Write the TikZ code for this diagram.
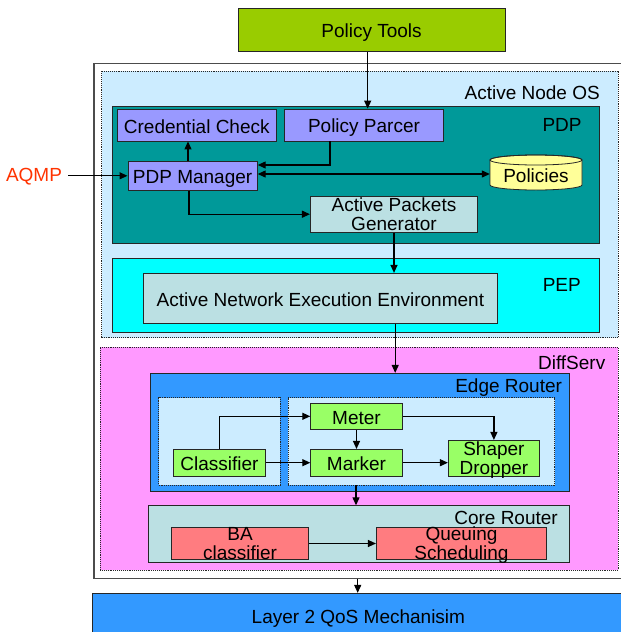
\documentclass[tikz,border=0pt]{standalone}
\usepackage{fontspec}
\setmainfont{Liberation Sans}
\usetikzlibrary{arrows.meta}
\definecolor{ptc}{HTML}{99CC00}
\definecolor{anosc}{HTML}{CCECFF}
\definecolor{pdpc}{HTML}{009999}
\definecolor{purp}{HTML}{9999FF}
\definecolor{polc}{HTML}{FFFF99}
\definecolor{grayb}{HTML}{BBE0E3}
\definecolor{pepc}{HTML}{00FFFF}
\definecolor{dsc}{HTML}{FF99FF}
\definecolor{blu}{HTML}{3399FF}
\definecolor{grn}{HTML}{99FF66}
\definecolor{redb}{HTML}{FF7C80}
\definecolor{aqc}{HTML}{FF3300}
\begin{document}
\begin{tikzpicture}[x=1pt,y=-1pt,
  every node/.style={font=\fontsize{19}{19}\selectfont},
  box/.style={draw=black!85, line width=0.8pt, inner sep=0pt, align=center},
  one/.style={text height=15.6pt, text depth=0pt},
  two/.style={text depth=0pt},
  cont/.style={draw=black!85, line width=0.8pt, inner sep=0pt},
  dcont/.style={draw=black!85, densely dotted, line width=0.9pt, inner sep=0pt},
  lbl/.style={anchor=base east, inner sep=0pt},
  arr/.style={-{Triangle[length=8pt,width=7pt]}, line width=1.2pt},
  arrb/.style={{Triangle[length=8pt,width=7pt]}-{Triangle[length=8pt,width=7pt]}, line width=1.2pt}]
\useasboundingbox (0,0) rectangle (621,632);
\clip (0,0) rectangle (621,632);
\fill[white] (0,0) rectangle (621,632);

% containers
\node[cont, draw=black!70, line width=1.2pt, minimum width=546, minimum height=514.8] (outer) at (367,320.9) {};
\node[dcont, fill=anosc, minimum width=516.2, minimum height=266.7] (anos) at (359.9,204.35) {};
\node[cont, fill=pdpc, minimum width=486.4, minimum height=136.6] (pdp) at (355.8,175) {};
\node[cont, fill=pepc, minimum width=486.4, minimum height=73.6] (pep) at (355.8,295.5) {};
\node[dcont, fill=dsc, minimum width=518, minimum height=222.7] (ds) at (359,458.65) {};
\node[cont, fill=blu, minimum width=418.5, minimum height=118.4] (er) at (360.05,432.5) {};
\node[dcont, fill=anosc, minimum width=121.7, minimum height=87.3] (inl) at (219.45,441.35) {};
\node[dcont, fill=anosc, minimum width=266.4, minimum height=87.3] (inr) at (421.6,441.35) {};
\node[cont, fill=grayb, minimum width=420.5, minimum height=57] (cr) at (359.05,534.2) {};

% container labels
\node[lbl] (lanos) at (600,99) {Active Node OS};
\node[lbl] (lpdp) at (581.8,131.7) {PDP};
\node[lbl] (lpep) at (581,291) {PEP};
\node[lbl] (lds) at (605.5,369.3) {DiffServ};
\node[lbl] (ler) at (562.2,392.3) {Edge Router};
\node[lbl] (lcr) at (558,524) {Core Router};

% boxes
\node[box, one, fill=ptc, minimum width=267, minimum height=43.4] (pt) at (371.5,30) {Policy Tools};
\node[box, one, fill=purp, minimum width=159.6, minimum height=31.7] (cc) at (196.8,125.2) {Credential Check};
\node[box, one, fill=purp, minimum width=159.2, minimum height=32] (pp) at (364,125) {Policy Parcer};
\node[box, one, fill=purp, minimum width=129.4, minimum height=29] (pm) at (192.6,175.8) {PDP Manager};
\node[box, two, fill=grayb, minimum width=167.3, minimum height=36.3] (apg) at (394,214.2) {Active Packets\\Generator};
\node[box, one, fill=grayb, minimum width=353.9, minimum height=50] (anee) at (320.4,298.3) {Active Network Execution Environment};

% Policies cylinder
\draw[fill=polc, draw=black!85, line width=0.8pt] (490,160) -- (490,185)
  arc[start angle=180, end angle=360, x radius=46pt, y radius=5pt] -- (582,160)
  arc[start angle=0, end angle=180, x radius=46pt, y radius=5pt] -- cycle;
\draw[draw=black!85, line width=0.8pt] (536,160) ellipse [x radius=46pt, y radius=5pt];
\node[one, inner sep=0pt, minimum width=92, minimum height=30] (pol) at (536,175) {Policies};

\node[box, one, fill=grn, minimum width=91.6, minimum height=26] (meter) at (356.5,416.3) {Meter};
\node[box, one, fill=grn, minimum width=91.6, minimum height=26.7] (marker) at (356.5,462.7) {Marker};
\node[box, one, fill=grn, minimum width=91.9, minimum height=26.7] (cls) at (219.5,462.7) {Classifier};
\node[box, two, fill=grn, minimum width=91.2, minimum height=35.7] (sd) at (493.9,458.2) {Shaper\\Dropper};
\node[box, two, fill=redb, minimum width=136.9, minimum height=31.6] (ba) at (240,543.5) {BA\\classifier};
\node[box, two, fill=redb, minimum width=170.3, minimum height=31.6] (qs) at (461.5,543.5) {Queuing\\Scheduling};
\node[box, one, fill=blu, minimum width=531.8, minimum height=45.4] (l2) at (358.4,616) {Layer 2 QoS Mechanisim};

\node[inner sep=0pt, text=aqc] (aqmp) at (34,176.5) {AQMP};

% connectors
\draw[arr] (pt.south -| 367.7,0) -- (pp.north -| 367.7,0);
\draw[arr] (pp.south -| 330,0) |- (pm.east |- 0,165);
\draw[arrb] (pm.east |- 0,174) -- (pol.west |- 0,174);
\draw[arr] (pm.north -| 188,0) -- (cc.south -| 188,0);
\draw[arr] (pm.south -| 189,0) |- (apg.west);
\draw[arr] (apg.south) -- (apg.south |- anee.north);
\draw[arr] (anee.south -| 395.2,0) -- (er.north -| 395.2,0);
\draw[arr] ([xshift=6pt]aqmp.east |- pm.west) -- (pm.west);
\draw[arr] (cls.north -| 219.8,0) |- (meter.west);
\draw[arr] (cls.east) -- (marker.west);
\draw[arr] (meter.south) -- (marker.north);
\draw[arr] (meter.east) -| (sd.north);
\draw[arr] (marker.east) -- (sd.west |- marker.east);
\draw[arr] (inr.south -| 356,0) -- (cr.north -| 356,0);
\draw[arr] (ba.east) -- (qs.west);
\draw[arr] (outer.south -| 357.7,0) -- (l2.north -| 357.7,0);
\end{tikzpicture}
\end{document}
